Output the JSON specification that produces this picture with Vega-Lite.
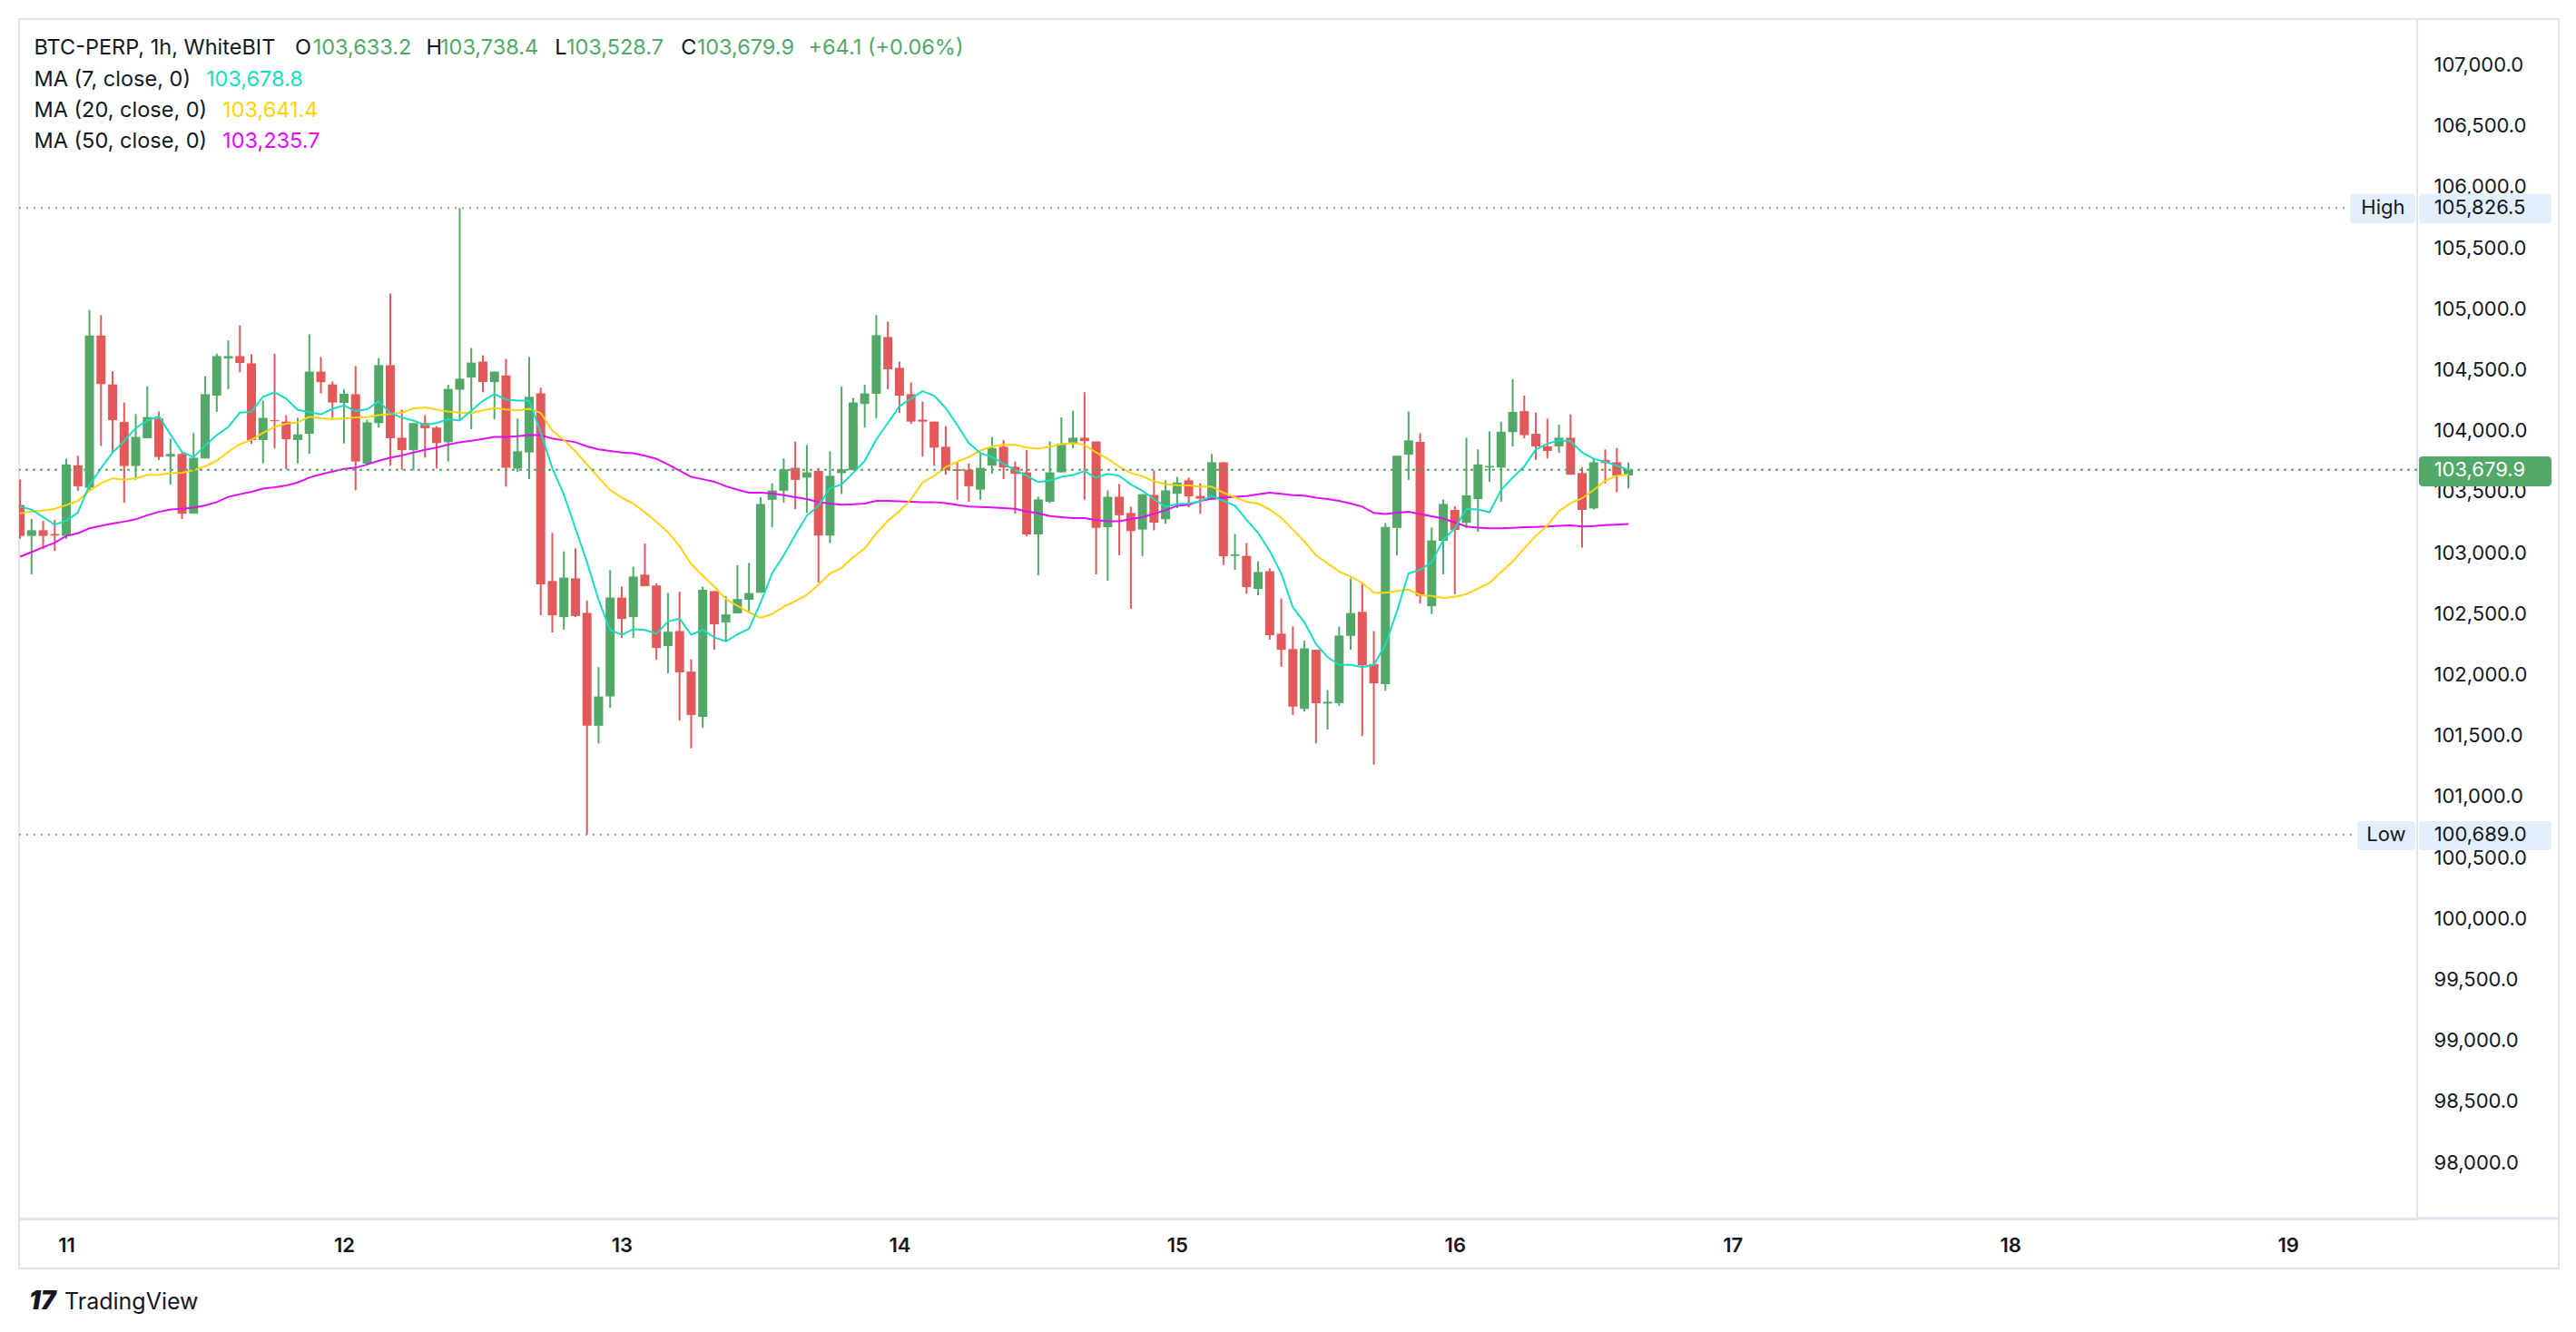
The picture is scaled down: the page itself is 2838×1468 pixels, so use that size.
{
  "$schema": "https://vega.github.io/schema/vega-lite/v6.json",
  "width": 2642,
  "height": 1322,
  "padding": {"left": 20, "top": 20, "right": 0, "bottom": 0},
  "autosize": {"type": "pad"},
  "background": "#ffffff",
  "config": {
    "font": "Inter",
    "view": {"stroke": "#e0e3eb", "strokeWidth": 2},
    "axisX": {"labelFont": "Inter", "labelFontSize": 22, "labelFontWeight": 600, "labelColor": "#131722", "labelPadding": 29, "labelBaseline": "middle", "ticks": false, "tickSize": 0, "domainColor": "#e0e3eb", "domainWidth": 3, "gridColor": "#f0f3fa", "gridWidth": 2},
    "axisY": {"labelFont": "Inter", "labelFontSize": 22, "labelColor": "#131722", "labelPadding": 18, "labelBaseline": "middle", "ticks": false, "tickSize": 0, "domain": false, "gridColor": "#f0f3fa", "gridWidth": 2}
  },
  "data": {"name": "candles", "values": [
    {"t":"2025-06-10T20:00","o":103391,"h":103600,"l":103116,"c":103138,"ma7":103378,"ma20":103323,"ma50":102968},
    {"t":"2025-06-10T21:00","o":103138,"h":103277,"l":102823,"c":103184,"ma7":103354,"ma20":103338,"ma50":103005},
    {"t":"2025-06-10T22:00","o":103184,"h":103261,"l":103030,"c":103138,"ma7":103292,"ma20":103345,"ma50":103045},
    {"t":"2025-06-10T23:00","o":103153,"h":103270,"l":103015,"c":103141,"ma7":103230,"ma20":103360,"ma50":103082},
    {"t":"2025-06-11T00:00","o":103138,"h":103770,"l":103113,"c":103724,"ma7":103261,"ma20":103391,"ma50":103138},
    {"t":"2025-06-11T01:00","o":103717,"h":103795,"l":103508,"c":103545,"ma7":103329,"ma20":103425,"ma50":103159},
    {"t":"2025-06-11T02:00","o":103533,"h":104991,"l":103508,"c":104781,"ma7":103554,"ma20":103508,"ma50":103200},
    {"t":"2025-06-11T03:00","o":104781,"h":104948,"l":103875,"c":104383,"ma7":103693,"ma20":103570,"ma50":103221},
    {"t":"2025-06-11T04:00","o":104380,"h":104488,"l":103822,"c":104087,"ma7":103822,"ma20":103610,"ma50":103240},
    {"t":"2025-06-11T05:00","o":104072,"h":104232,"l":103409,"c":103711,"ma7":103915,"ma20":103600,"ma50":103255},
    {"t":"2025-06-11T06:00","o":103711,"h":104137,"l":103597,"c":103949,"ma7":104023,"ma20":103610,"ma50":103274},
    {"t":"2025-06-11T07:00","o":103939,"h":104365,"l":103939,"c":104112,"ma7":104084,"ma20":103637,"ma50":103307},
    {"t":"2025-06-11T08:00","o":104100,"h":104158,"l":103761,"c":103785,"ma7":104118,"ma20":103640,"ma50":103335},
    {"t":"2025-06-11T09:00","o":103788,"h":103936,"l":103557,"c":103810,"ma7":103970,"ma20":103653,"ma50":103354},
    {"t":"2025-06-11T10:00","o":103810,"h":103822,"l":103277,"c":103320,"ma7":103825,"ma20":103656,"ma50":103360},
    {"t":"2025-06-11T11:00","o":103320,"h":103983,"l":103320,"c":103779,"ma7":103785,"ma20":103677,"ma50":103369},
    {"t":"2025-06-11T12:00","o":103773,"h":104448,"l":103773,"c":104300,"ma7":103878,"ma20":103708,"ma50":103388},
    {"t":"2025-06-11T13:00","o":104288,"h":104633,"l":104155,"c":104612,"ma7":103964,"ma20":103754,"ma50":103415},
    {"t":"2025-06-11T14:00","o":104593,"h":104741,"l":104340,"c":104612,"ma7":104032,"ma20":103829,"ma50":103458},
    {"t":"2025-06-11T15:00","o":104612,"h":104864,"l":104479,"c":104556,"ma7":104149,"ma20":103890,"ma50":103480},
    {"t":"2025-06-11T16:00","o":104553,"h":104627,"l":103893,"c":103924,"ma7":104155,"ma20":103927,"ma50":103499},
    {"t":"2025-06-11T17:00","o":103924,"h":104248,"l":103733,"c":104106,"ma7":104279,"ma20":103983,"ma50":103526},
    {"t":"2025-06-11T18:00","o":104087,"h":104633,"l":103856,"c":104078,"ma7":104316,"ma20":104032,"ma50":103536},
    {"t":"2025-06-11T19:00","o":104075,"h":104128,"l":103684,"c":103930,"ma7":104263,"ma20":104057,"ma50":103551},
    {"t":"2025-06-11T20:00","o":103924,"h":104106,"l":103733,"c":103970,"ma7":104171,"ma20":104069,"ma50":103576},
    {"t":"2025-06-11T21:00","o":103976,"h":104790,"l":103810,"c":104485,"ma7":104155,"ma20":104115,"ma50":103616},
    {"t":"2025-06-11T22:00","o":104485,"h":104605,"l":104306,"c":104399,"ma7":104134,"ma20":104103,"ma50":103643},
    {"t":"2025-06-11T23:00","o":104380,"h":104405,"l":104106,"c":104232,"ma7":104180,"ma20":104094,"ma50":103665},
    {"t":"2025-06-12T00:00","o":104229,"h":104340,"l":103896,"c":104303,"ma7":104208,"ma20":104100,"ma50":103687},
    {"t":"2025-06-12T01:00","o":104300,"h":104531,"l":103511,"c":103748,"ma7":104161,"ma20":104109,"ma50":103696},
    {"t":"2025-06-12T02:00","o":103730,"h":104091,"l":103730,"c":104069,"ma7":104177,"ma20":104112,"ma50":103724},
    {"t":"2025-06-12T03:00","o":104063,"h":104596,"l":104026,"c":104538,"ma7":104242,"ma20":104128,"ma50":103754},
    {"t":"2025-06-12T04:00","o":104538,"h":105126,"l":103714,"c":103939,"ma7":104146,"ma20":104137,"ma50":103779},
    {"t":"2025-06-12T05:00","o":103943,"h":104174,"l":103677,"c":103841,"ma7":104109,"ma20":104149,"ma50":103798},
    {"t":"2025-06-12T06:00","o":103841,"h":104063,"l":103677,"c":104063,"ma7":104084,"ma20":104183,"ma50":103822},
    {"t":"2025-06-12T07:00","o":104063,"h":104128,"l":103779,"c":104020,"ma7":104047,"ma20":104192,"ma50":103844},
    {"t":"2025-06-12T08:00","o":104026,"h":104038,"l":103690,"c":103899,"ma7":104063,"ma20":104174,"ma50":103862},
    {"t":"2025-06-12T09:00","o":103906,"h":104377,"l":103748,"c":104343,"ma7":104094,"ma20":104158,"ma50":103887},
    {"t":"2025-06-12T10:00","o":104337,"h":105826.5,"l":104087,"c":104427,"ma7":104084,"ma20":104149,"ma50":103906},
    {"t":"2025-06-12T11:00","o":104436,"h":104679,"l":104013,"c":104559,"ma7":104165,"ma20":104146,"ma50":103918},
    {"t":"2025-06-12T12:00","o":104568,"h":104618,"l":104316,"c":104399,"ma7":104245,"ma20":104168,"ma50":103933},
    {"t":"2025-06-12T13:00","o":104399,"h":104485,"l":104094,"c":104485,"ma7":104300,"ma20":104186,"ma50":103949},
    {"t":"2025-06-12T14:00","o":104454,"h":104590,"l":103542,"c":103696,"ma7":104257,"ma20":104174,"ma50":103949},
    {"t":"2025-06-12T15:00","o":103690,"h":104100,"l":103662,"c":103832,"ma7":104248,"ma20":104168,"ma50":103955},
    {"t":"2025-06-12T16:00","o":103822,"h":104605,"l":103603,"c":104279,"ma7":104248,"ma20":104180,"ma50":103964},
    {"t":"2025-06-12T17:00","o":104306,"h":104353,"l":102487,"c":102740,"ma7":103986,"ma20":104146,"ma50":103964},
    {"t":"2025-06-12T18:00","o":102768,"h":103163,"l":102346,"c":102487,"ma7":103693,"ma20":104001,"ma50":103936},
    {"t":"2025-06-12T19:00","o":102472,"h":103011,"l":102370,"c":102796,"ma7":103477,"ma20":103924,"ma50":103921},
    {"t":"2025-06-12T20:00","o":102790,"h":103036,"l":102472,"c":102481,"ma7":103200,"ma20":103832,"ma50":103906},
    {"t":"2025-06-12T21:00","o":102506,"h":102608,"l":100689,"c":101581,"ma7":102922,"ma20":103724,"ma50":103872},
    {"t":"2025-06-12T22:00","o":101581,"h":102062,"l":101436,"c":101821,"ma7":102614,"ma20":103616,"ma50":103847},
    {"t":"2025-06-12T23:00","o":101821,"h":102857,"l":101729,"c":102632,"ma7":102367,"ma20":103514,"ma50":103835},
    {"t":"2025-06-13T00:00","o":102632,"h":102722,"l":102302,"c":102457,"ma7":102327,"ma20":103452,"ma50":103822},
    {"t":"2025-06-13T01:00","o":102472,"h":102885,"l":102302,"c":102805,"ma7":102373,"ma20":103403,"ma50":103816},
    {"t":"2025-06-13T02:00","o":102820,"h":103076,"l":102725,"c":102725,"ma7":102367,"ma20":103332,"ma50":103795},
    {"t":"2025-06-13T03:00","o":102731,"h":102749,"l":102124,"c":102219,"ma7":102336,"ma20":103252,"ma50":103770},
    {"t":"2025-06-13T04:00","o":102235,"h":102669,"l":102013,"c":102352,"ma7":102435,"ma20":103169,"ma50":103724},
    {"t":"2025-06-13T05:00","o":102358,"h":102679,"l":101624,"c":102019,"ma7":102460,"ma20":103052,"ma50":103674},
    {"t":"2025-06-13T06:00","o":102025,"h":102127,"l":101396,"c":101670,"ma7":102327,"ma20":102907,"ma50":103622},
    {"t":"2025-06-13T07:00","o":101655,"h":102722,"l":101566,"c":102697,"ma7":102367,"ma20":102811,"ma50":103603},
    {"t":"2025-06-13T08:00","o":102685,"h":102685,"l":102204,"c":102413,"ma7":102306,"ma20":102722,"ma50":103582},
    {"t":"2025-06-13T09:00","o":102429,"h":102645,"l":102275,"c":102494,"ma7":102272,"ma20":102620,"ma50":103545},
    {"t":"2025-06-13T10:00","o":102503,"h":102897,"l":102503,"c":102620,"ma7":102330,"ma20":102565,"ma50":103517},
    {"t":"2025-06-13T11:00","o":102614,"h":102916,"l":102506,"c":102669,"ma7":102376,"ma20":102512,"ma50":103492},
    {"t":"2025-06-13T12:00","o":102672,"h":103455,"l":102672,"c":103400,"ma7":102589,"ma20":102466,"ma50":103492},
    {"t":"2025-06-13T13:00","o":103434,"h":103569,"l":103209,"c":103511,"ma7":102830,"ma20":102497,"ma50":103486},
    {"t":"2025-06-13T14:00","o":103508,"h":103773,"l":103409,"c":103684,"ma7":102978,"ma20":102558,"ma50":103471},
    {"t":"2025-06-13T15:00","o":103696,"h":103912,"l":103357,"c":103597,"ma7":103147,"ma20":102602,"ma50":103455},
    {"t":"2025-06-13T16:00","o":103616,"h":103884,"l":103326,"c":103659,"ma7":103304,"ma20":102654,"ma50":103440},
    {"t":"2025-06-13T17:00","o":103671,"h":103696,"l":102756,"c":103141,"ma7":103385,"ma20":102737,"ma50":103415},
    {"t":"2025-06-13T18:00","o":103141,"h":103832,"l":103079,"c":103631,"ma7":103529,"ma20":102830,"ma50":103403},
    {"t":"2025-06-13T19:00","o":103653,"h":104362,"l":103480,"c":103684,"ma7":103560,"ma20":102876,"ma50":103394},
    {"t":"2025-06-13T20:00","o":103677,"h":104269,"l":103677,"c":104232,"ma7":103653,"ma20":102962,"ma50":103397},
    {"t":"2025-06-13T21:00","o":104220,"h":104377,"l":104026,"c":104306,"ma7":103754,"ma20":103036,"ma50":103403},
    {"t":"2025-06-13T22:00","o":104303,"h":104948,"l":104103,"c":104784,"ma7":103930,"ma20":103159,"ma50":103425},
    {"t":"2025-06-13T23:00","o":104769,"h":104895,"l":104340,"c":104504,"ma7":104063,"ma20":103261,"ma50":103425},
    {"t":"2025-06-14T00:00","o":104516,"h":104568,"l":104146,"c":104288,"ma7":104201,"ma20":103341,"ma50":103422},
    {"t":"2025-06-14T01:00","o":104300,"h":104396,"l":104057,"c":104075,"ma7":104263,"ma20":103437,"ma50":103418},
    {"t":"2025-06-14T02:00","o":104091,"h":104239,"l":103788,"c":104075,"ma7":104325,"ma20":103576,"ma50":103415},
    {"t":"2025-06-14T03:00","o":104075,"h":104075,"l":103714,"c":103862,"ma7":104288,"ma20":103631,"ma50":103415},
    {"t":"2025-06-14T04:00","o":103869,"h":104038,"l":103640,"c":103677,"ma7":104186,"ma20":103702,"ma50":103406},
    {"t":"2025-06-14T05:00","o":103684,"h":103745,"l":103434,"c":103671,"ma7":104047,"ma20":103745,"ma50":103391},
    {"t":"2025-06-14T06:00","o":103681,"h":103733,"l":103418,"c":103545,"ma7":103899,"ma20":103785,"ma50":103378},
    {"t":"2025-06-14T07:00","o":103517,"h":103822,"l":103434,"c":103696,"ma7":103816,"ma20":103838,"ma50":103375},
    {"t":"2025-06-14T08:00","o":103714,"h":103949,"l":103647,"c":103859,"ma7":103785,"ma20":103872,"ma50":103372},
    {"t":"2025-06-14T09:00","o":103869,"h":103924,"l":103603,"c":103699,"ma7":103730,"ma20":103884,"ma50":103366},
    {"t":"2025-06-14T10:00","o":103705,"h":103748,"l":103320,"c":103647,"ma7":103677,"ma20":103884,"ma50":103360},
    {"t":"2025-06-14T11:00","o":103659,"h":103841,"l":103135,"c":103150,"ma7":103631,"ma20":103862,"ma50":103338},
    {"t":"2025-06-14T12:00","o":103150,"h":103459,"l":102814,"c":103437,"ma7":103579,"ma20":103853,"ma50":103323},
    {"t":"2025-06-14T13:00","o":103418,"h":103912,"l":103406,"c":103659,"ma7":103591,"ma20":103869,"ma50":103301},
    {"t":"2025-06-14T14:00","o":103659,"h":104109,"l":103659,"c":103896,"ma7":103622,"ma20":103890,"ma50":103292},
    {"t":"2025-06-14T15:00","o":103893,"h":104165,"l":103856,"c":103943,"ma7":103637,"ma20":103899,"ma50":103283},
    {"t":"2025-06-14T16:00","o":103943,"h":104316,"l":103434,"c":103915,"ma7":103668,"ma20":103884,"ma50":103283},
    {"t":"2025-06-14T17:00","o":103912,"h":103912,"l":102823,"c":103203,"ma7":103616,"ma20":103822,"ma50":103267},
    {"t":"2025-06-14T18:00","o":103209,"h":103511,"l":102771,"c":103459,"ma7":103647,"ma20":103770,"ma50":103258},
    {"t":"2025-06-14T19:00","o":103459,"h":103563,"l":102978,"c":103307,"ma7":103631,"ma20":103705,"ma50":103258},
    {"t":"2025-06-14T20:00","o":103326,"h":103378,"l":102540,"c":103178,"ma7":103560,"ma20":103653,"ma50":103277},
    {"t":"2025-06-14T21:00","o":103190,"h":103480,"l":102971,"c":103480,"ma7":103508,"ma20":103628,"ma50":103292},
    {"t":"2025-06-14T22:00","o":103474,"h":103674,"l":103184,"c":103246,"ma7":103440,"ma20":103585,"ma50":103320},
    {"t":"2025-06-14T23:00","o":103274,"h":103594,"l":103237,"c":103511,"ma7":103375,"ma20":103563,"ma50":103348},
    {"t":"2025-06-15T00:00","o":103483,"h":103622,"l":103366,"c":103576,"ma7":103400,"ma20":103554,"ma50":103385},
    {"t":"2025-06-15T01:00","o":103594,"h":103616,"l":103372,"c":103462,"ma7":103403,"ma20":103551,"ma50":103394},
    {"t":"2025-06-15T02:00","o":103465,"h":103569,"l":103320,"c":103443,"ma7":103422,"ma20":103542,"ma50":103425},
    {"t":"2025-06-15T03:00","o":103434,"h":103810,"l":103434,"c":103742,"ma7":103465,"ma20":103542,"ma50":103443},
    {"t":"2025-06-15T04:00","o":103742,"h":103742,"l":102900,"c":102971,"ma7":103425,"ma20":103492,"ma50":103452},
    {"t":"2025-06-15T05:00","o":102974,"h":103153,"l":102860,"c":102987,"ma7":103385,"ma20":103455,"ma50":103458},
    {"t":"2025-06-15T06:00","o":102974,"h":103079,"l":102663,"c":102719,"ma7":103270,"ma20":103418,"ma50":103465},
    {"t":"2025-06-15T07:00","o":102703,"h":102931,"l":102651,"c":102842,"ma7":103163,"ma20":103403,"ma50":103480},
    {"t":"2025-06-15T08:00","o":102848,"h":102873,"l":102287,"c":102324,"ma7":103015,"ma20":103354,"ma50":103492},
    {"t":"2025-06-15T09:00","o":102336,"h":102626,"l":102065,"c":102204,"ma7":102830,"ma20":103286,"ma50":103483},
    {"t":"2025-06-15T10:00","o":102210,"h":102395,"l":101670,"c":101738,"ma7":102552,"ma20":103190,"ma50":103471},
    {"t":"2025-06-15T11:00","o":101720,"h":102278,"l":101698,"c":102216,"ma7":102429,"ma20":103092,"ma50":103468},
    {"t":"2025-06-15T12:00","o":102204,"h":102204,"l":101436,"c":101766,"ma7":102250,"ma20":102978,"ma50":103452},
    {"t":"2025-06-15T13:00","o":101763,"h":101874,"l":101550,"c":101778,"ma7":102145,"ma20":102913,"ma50":103440},
    {"t":"2025-06-15T14:00","o":101766,"h":102395,"l":101744,"c":102321,"ma7":102080,"ma20":102845,"ma50":103425},
    {"t":"2025-06-15T15:00","o":102318,"h":102790,"l":102204,"c":102506,"ma7":102080,"ma20":102805,"ma50":103403},
    {"t":"2025-06-15T16:00","o":102515,"h":102759,"l":101498,"c":102077,"ma7":102062,"ma20":102752,"ma50":103378},
    {"t":"2025-06-15T17:00","o":102087,"h":102358,"l":101264,"c":101929,"ma7":102080,"ma20":102672,"ma50":103326},
    {"t":"2025-06-15T18:00","o":101923,"h":103243,"l":101868,"c":103212,"ma7":102244,"ma20":102672,"ma50":103317},
    {"t":"2025-06-15T19:00","o":103203,"h":103795,"l":102978,"c":103795,"ma7":102521,"ma20":102685,"ma50":103329},
    {"t":"2025-06-15T20:00","o":103804,"h":104158,"l":103597,"c":103921,"ma7":102830,"ma20":102697,"ma50":103335},
    {"t":"2025-06-15T21:00","o":103909,"h":103980,"l":102583,"c":102645,"ma7":102860,"ma20":102654,"ma50":103317},
    {"t":"2025-06-15T22:00","o":102561,"h":103206,"l":102497,"c":103101,"ma7":102922,"ma20":102645,"ma50":103298},
    {"t":"2025-06-15T23:00","o":103098,"h":103437,"l":102823,"c":103400,"ma7":103107,"ma20":102629,"ma50":103280},
    {"t":"2025-06-16T00:00","o":103351,"h":103381,"l":102660,"c":103187,"ma7":103200,"ma20":102638,"ma50":103249},
    {"t":"2025-06-16T01:00","o":103246,"h":103943,"l":103203,"c":103471,"ma7":103360,"ma20":102660,"ma50":103215},
    {"t":"2025-06-16T02:00","o":103440,"h":103847,"l":103172,"c":103724,"ma7":103354,"ma20":102706,"ma50":103206},
    {"t":"2025-06-16T03:00","o":103699,"h":103995,"l":103582,"c":103711,"ma7":103332,"ma20":102752,"ma50":103200},
    {"t":"2025-06-16T04:00","o":103699,"h":104075,"l":103418,"c":103992,"ma7":103514,"ma20":102842,"ma50":103200},
    {"t":"2025-06-16T05:00","o":103989,"h":104423,"l":103872,"c":104155,"ma7":103616,"ma20":102928,"ma50":103203},
    {"t":"2025-06-16T06:00","o":104161,"h":104288,"l":103939,"c":103964,"ma7":103708,"ma20":103036,"ma50":103209},
    {"t":"2025-06-16T07:00","o":103976,"h":104149,"l":103761,"c":103872,"ma7":103847,"ma20":103138,"ma50":103212},
    {"t":"2025-06-16T08:00","o":103872,"h":104100,"l":103773,"c":103835,"ma7":103893,"ma20":103224,"ma50":103215},
    {"t":"2025-06-16T09:00","o":103872,"h":104050,"l":103819,"c":103943,"ma7":103921,"ma20":103341,"ma50":103221},
    {"t":"2025-06-16T10:00","o":103943,"h":104134,"l":103640,"c":103640,"ma7":103915,"ma20":103406,"ma50":103224},
    {"t":"2025-06-16T11:00","o":103653,"h":103702,"l":103042,"c":103351,"ma7":103822,"ma20":103446,"ma50":103215},
    {"t":"2025-06-16T12:00","o":103363,"h":103776,"l":103354,"c":103742,"ma7":103770,"ma20":103514,"ma50":103218},
    {"t":"2025-06-16T13:00","o":103761,"h":103847,"l":103569,"c":103736,"ma7":103745,"ma20":103591,"ma50":103227},
    {"t":"2025-06-16T14:00","o":103742,"h":103859,"l":103496,"c":103633,"ma7":103714,"ma20":103631,"ma50":103230},
    {"t":"2025-06-16T15:00","o":103633.2,"h":103738.4,"l":103528.7,"c":103679.9,"ma7":103678.8,"ma20":103641.4,"ma50":103235.7}
  ]},
  "layer": [
    {
      "data": {"values": [{}]},
      "mark": {"type": "rect", "fill": null, "fillOpacity": 0, "stroke": "#e0e3eb", "strokeWidth": 2},
      "encoding": {
        "x": {"datum": {"year": 2025, "month": 6, "date": 10, "hours": 19, "minutes": 55}, "title": null},
        "x2": {"datum": {"year": 2025, "month": 6, "date": 19, "hours": 23, "minutes": 24}},
        "y": {"datum": 107376, "title": null},
        "y2": {"datum": 97131}
      }
    },
    {
      "data": {"values": [{}]},
      "mark": {"type": "rule", "color": "#e0e3eb", "strokeWidth": 3},
      "encoding": {
        "x": {"datum": {"year": 2025, "month": 6, "date": 19, "hours": 11, "minutes": 10}, "title": null},
        "x2": {"datum": {"year": 2025, "month": 6, "date": 19, "hours": 23, "minutes": 24}},
        "y": {"datum": 97540, "title": null}
      }
    },
    {
      "mark": {"type": "rule", "strokeWidth": 2, "clip": true},
      "encoding": {
        "x": {"field": "t", "type": "temporal", "title": null,
          "scale": {"domain": [{"year": 2025, "month": 6, "date": 10, "hours": 19, "minutes": 55}, {"year": 2025, "month": 6, "date": 19, "hours": 11, "minutes": 10}], "nice": false, "padding": 0},
          "axis": {"format": "%-d", "tickCount": {"interval": "day", "step": 1}, "labelFlush": false, "labelOverlap": false}},
        "y": {"field": "l", "type": "quantitative", "title": null,
          "scale": {"domain": [97540, 107376], "zero": false, "nice": false},
          "axis": {"orient": "right", "format": ",.1f", "labelOverlap": false, "values": [98000, 98500, 99000, 99500, 100000, 100500, 101000, 101500, 102000, 102500, 103000, 103500, 104000, 104500, 105000, 105500, 106000, 106500, 107000]}},
        "y2": {"field": "h"},
        "color": {"condition": {"test": "datum.c >= datum.o", "value": "#52a867"}, "value": "#e35858"}
      }
    },
    {
      "mark": {"type": "bar", "width": 10, "clip": true},
      "encoding": {
        "x": {"field": "t", "type": "temporal", "title": null},
        "y": {"field": "o", "type": "quantitative", "title": null},
        "y2": {"field": "c"},
        "color": {"condition": {"test": "datum.c >= datum.o", "value": "#52a867"}, "value": "#e35858"}
      }
    },
    {
      "mark": {"type": "line", "color": "#e30cf7", "strokeWidth": 2, "clip": true},
      "encoding": {"x": {"field": "t", "type": "temporal", "title": null}, "y": {"field": "ma50", "type": "quantitative", "title": null}}
    },
    {
      "mark": {"type": "line", "color": "#fdd20e", "strokeWidth": 2, "clip": true},
      "encoding": {"x": {"field": "t", "type": "temporal", "title": null}, "y": {"field": "ma20", "type": "quantitative", "title": null}}
    },
    {
      "mark": {"type": "line", "color": "#17dcc3", "strokeWidth": 2, "clip": true},
      "encoding": {"x": {"field": "t", "type": "temporal", "title": null}, "y": {"field": "ma7", "type": "quantitative", "title": null}}
    },
    {
      "data": {"values": [{}]},
      "mark": {"type": "rule", "color": "#9598a1", "strokeWidth": 2, "strokeDash": [2, 6]},
      "encoding": {
        "x": {"datum": {"year": 2025, "month": 6, "date": 10, "hours": 19, "minutes": 55}, "title": null},
        "x2": {"datum": {"year": 2025, "month": 6, "date": 19, "hours": 5, "minutes": 21, "seconds": 30}},
        "y": {"datum": 105826.5, "title": null}
      }
    },
    {
      "data": {"values": [{}]},
      "mark": {"type": "rule", "color": "#9598a1", "strokeWidth": 2, "strokeDash": [2, 6]},
      "encoding": {
        "x": {"datum": {"year": 2025, "month": 6, "date": 10, "hours": 19, "minutes": 55}, "title": null},
        "x2": {"datum": {"year": 2025, "month": 6, "date": 19, "hours": 5, "minutes": 59}},
        "y": {"datum": 100689, "title": null}
      }
    },
    {
      "data": {"values": [{}]},
      "mark": {"type": "rule", "color": "#52a867", "strokeWidth": 2, "strokeDash": [3, 5]},
      "encoding": {"y": {"datum": 103679.9, "title": null}}
    },
    {
      "data": {"values": [{}]},
      "mark": {"type": "rect", "fill": "#e3eefc", "cornerRadius": 4},
      "encoding": {
        "x": {"datum": {"year": 2025, "month": 6, "date": 19, "hours": 5, "minutes": 21, "seconds": 30}, "title": null},
        "x2": {"datum": {"year": 2025, "month": 6, "date": 19, "hours": 11, "minutes": 0, "seconds": 24}},
        "y": {"datum": 105944, "title": null},
        "y2": {"datum": 105700}
      }
    },
    {
      "data": {"values": [{}]},
      "mark": {"type": "rect", "fill": "#e3eefc", "cornerRadius": 4},
      "encoding": {
        "x": {"datum": {"year": 2025, "month": 6, "date": 19, "hours": 11, "minutes": 19, "seconds": 18}, "title": null},
        "x2": {"datum": {"year": 2025, "month": 6, "date": 19, "hours": 22, "minutes": 46, "seconds": 24}},
        "y": {"datum": 105944, "title": null},
        "y2": {"datum": 105700}
      }
    },
    {
      "data": {"values": [{}]},
      "mark": {"type": "rect", "fill": "#e3eefc", "cornerRadius": 4},
      "encoding": {
        "x": {"datum": {"year": 2025, "month": 6, "date": 19, "hours": 5, "minutes": 59, "seconds": 12}, "title": null},
        "x2": {"datum": {"year": 2025, "month": 6, "date": 19, "hours": 11, "minutes": 0, "seconds": 24}},
        "y": {"datum": 100799, "title": null},
        "y2": {"datum": 100561}
      }
    },
    {
      "data": {"values": [{}]},
      "mark": {"type": "rect", "fill": "#e3eefc", "cornerRadius": 4},
      "encoding": {
        "x": {"datum": {"year": 2025, "month": 6, "date": 19, "hours": 11, "minutes": 19, "seconds": 18}, "title": null},
        "x2": {"datum": {"year": 2025, "month": 6, "date": 19, "hours": 22, "minutes": 46, "seconds": 24}},
        "y": {"datum": 100799, "title": null},
        "y2": {"datum": 100561}
      }
    },
    {
      "data": {"values": [{}]},
      "mark": {"type": "rect", "fill": "#52a867", "cornerRadius": 4},
      "encoding": {
        "x": {"datum": {"year": 2025, "month": 6, "date": 19, "hours": 11, "minutes": 19, "seconds": 18}, "title": null},
        "x2": {"datum": {"year": 2025, "month": 6, "date": 19, "hours": 22, "minutes": 46, "seconds": 24}},
        "y": {"datum": 103790, "title": null},
        "y2": {"datum": 103545}
      }
    },
    {
      "data": {"values": [{}]},
      "mark": {"type": "text", "align": "center", "baseline": "middle", "fontSize": 22, "color": "#131722"},
      "encoding": {"x": {"datum": {"year": 2025, "month": 6, "date": 19, "hours": 8, "minutes": 13, "seconds": 18}, "title": null}, "y": {"datum": 105826.5, "title": null}, "text": {"value": "High"}}
    },
    {
      "data": {"values": [{}]},
      "mark": {"type": "text", "align": "left", "baseline": "middle", "fontSize": 22, "color": "#131722"},
      "encoding": {"x": {"datum": {"year": 2025, "month": 6, "date": 19, "hours": 12, "minutes": 37, "seconds": 48}, "title": null}, "y": {"datum": 105826.5, "title": null}, "text": {"value": "105,826.5"}}
    },
    {
      "data": {"values": [{}]},
      "mark": {"type": "text", "align": "center", "baseline": "middle", "fontSize": 22, "color": "#131722"},
      "encoding": {"x": {"datum": {"year": 2025, "month": 6, "date": 19, "hours": 8, "minutes": 29, "seconds": 48}, "title": null}, "y": {"datum": 100689, "title": null}, "text": {"value": "Low"}}
    },
    {
      "data": {"values": [{}]},
      "mark": {"type": "text", "align": "left", "baseline": "middle", "fontSize": 22, "color": "#131722"},
      "encoding": {"x": {"datum": {"year": 2025, "month": 6, "date": 19, "hours": 12, "minutes": 37, "seconds": 48}, "title": null}, "y": {"datum": 100689, "title": null}, "text": {"value": "100,689.0"}}
    },
    {
      "data": {"values": [{}]},
      "mark": {"type": "text", "align": "left", "baseline": "middle", "fontSize": 22, "color": "#ffffff"},
      "encoding": {"x": {"datum": {"year": 2025, "month": 6, "date": 19, "hours": 12, "minutes": 37, "seconds": 48}, "title": null}, "y": {"datum": 103679.9, "title": null}, "text": {"value": "103,679.9"}}
    },
    {
      "data": {"values": [{}]},
      "mark": {"type": "text", "align": "left", "baseline": "alphabetic", "fontSize": 23.5, "lineHeight": 34.4, "color": "#131722"},
      "encoding": {"x": {"datum": {"year": 2025, "month": 6, "date": 10, "hours": 21, "minutes": 12, "seconds": 40}, "title": null}, "y": {"datum": 107085, "title": null}, "text": {"value": ["BTC-PERP, 1h, WhiteBIT", "MA (7, close, 0)", "MA (20, close, 0)", "MA (50, close, 0)"]}}
    },
    {
      "data": {"values": [{}]},
      "mark": {"type": "text", "align": "left", "baseline": "alphabetic", "fontSize": 23.5, "color": "#131722"},
      "encoding": {"x": {"datum": {"year": 2025, "month": 6, "date": 11, "hours": 19, "minutes": 46, "seconds": 18}, "title": null}, "y": {"datum": 107085, "title": null}, "text": {"value": "O"}}
    },
    {
      "data": {"values": [{}]},
      "mark": {"type": "text", "align": "left", "baseline": "alphabetic", "fontSize": 23.5, "color": "#52a867"},
      "encoding": {"x": {"datum": {"year": 2025, "month": 6, "date": 11, "hours": 21, "minutes": 18, "seconds": 30}, "title": null}, "y": {"datum": 107085, "title": null}, "text": {"value": "103,633.2"}}
    },
    {
      "data": {"values": [{}]},
      "mark": {"type": "text", "align": "left", "baseline": "alphabetic", "fontSize": 23.5, "color": "#131722"},
      "encoding": {"x": {"datum": {"year": 2025, "month": 6, "date": 12, "hours": 7, "minutes": 6, "seconds": 24}, "title": null}, "y": {"datum": 107085, "title": null}, "text": {"value": "H"}}
    },
    {
      "data": {"values": [{}]},
      "mark": {"type": "text", "align": "left", "baseline": "alphabetic", "fontSize": 23.5, "color": "#52a867"},
      "encoding": {"x": {"datum": {"year": 2025, "month": 6, "date": 12, "hours": 8, "minutes": 18, "seconds": 54}, "title": null}, "y": {"datum": 107085, "title": null}, "text": {"value": "103,738.4"}}
    },
    {
      "data": {"values": [{}]},
      "mark": {"type": "text", "align": "left", "baseline": "alphabetic", "fontSize": 23.5, "color": "#131722"},
      "encoding": {"x": {"datum": {"year": 2025, "month": 6, "date": 12, "hours": 18, "minutes": 13, "seconds": 18}, "title": null}, "y": {"datum": 107085, "title": null}, "text": {"value": "L"}}
    },
    {
      "data": {"values": [{}]},
      "mark": {"type": "text", "align": "left", "baseline": "alphabetic", "fontSize": 23.5, "color": "#52a867"},
      "encoding": {"x": {"datum": {"year": 2025, "month": 6, "date": 12, "hours": 19, "minutes": 12, "seconds": 36}, "title": null}, "y": {"datum": 107085, "title": null}, "text": {"value": "103,528.7"}}
    },
    {
      "data": {"values": [{}]},
      "mark": {"type": "text", "align": "left", "baseline": "alphabetic", "fontSize": 23.5, "color": "#131722"},
      "encoding": {"x": {"datum": {"year": 2025, "month": 6, "date": 13, "hours": 5, "minutes": 7, "seconds": 6}, "title": null}, "y": {"datum": 107085, "title": null}, "text": {"value": "C"}}
    },
    {
      "data": {"values": [{}]},
      "mark": {"type": "text", "align": "left", "baseline": "alphabetic", "fontSize": 23.5, "color": "#52a867"},
      "encoding": {"x": {"datum": {"year": 2025, "month": 6, "date": 13, "hours": 6, "minutes": 29, "seconds": 24}, "title": null}, "y": {"datum": 107085, "title": null}, "text": {"value": "103,679.9"}}
    },
    {
      "data": {"values": [{}]},
      "mark": {"type": "text", "align": "left", "baseline": "alphabetic", "fontSize": 23.5, "color": "#52a867"},
      "encoding": {"x": {"datum": {"year": 2025, "month": 6, "date": 13, "hours": 16, "minutes": 7, "seconds": 24}, "title": null}, "y": {"datum": 107085, "title": null}, "text": {"value": "+64.1 (+0.06%)"}}
    },
    {
      "data": {"values": [{}]},
      "mark": {"type": "text", "align": "left", "baseline": "alphabetic", "fontSize": 23.5, "color": "#17dcc3"},
      "encoding": {"x": {"datum": {"year": 2025, "month": 6, "date": 11, "hours": 12, "minutes": 4, "seconds": 6}, "title": null}, "y": {"datum": 106829, "title": null}, "text": {"value": "103,678.8"}}
    },
    {
      "data": {"values": [{}]},
      "mark": {"type": "text", "align": "left", "baseline": "alphabetic", "fontSize": 23.5, "color": "#fdd20e"},
      "encoding": {"x": {"datum": {"year": 2025, "month": 6, "date": 11, "hours": 13, "minutes": 29, "seconds": 42}, "title": null}, "y": {"datum": 106573, "title": null}, "text": {"value": "103,641.4"}}
    },
    {
      "data": {"values": [{}]},
      "mark": {"type": "text", "align": "left", "baseline": "alphabetic", "fontSize": 23.5, "color": "#e30cf7"},
      "encoding": {"x": {"datum": {"year": 2025, "month": 6, "date": 11, "hours": 13, "minutes": 29, "seconds": 42}, "title": null}, "y": {"datum": 106317, "title": null}, "text": {"value": "103,235.7"}}
    },
    {
      "data": {"values": [{}]},
      "mark": {"type": "text", "align": "left", "baseline": "alphabetic", "fontSize": 28, "fontWeight": 900, "fontStyle": "italic", "color": "#131722"},
      "encoding": {"x": {"datum": {"year": 2025, "month": 6, "date": 10, "hours": 20, "minutes": 46, "seconds": 47}, "title": null}, "y": {"datum": 96796, "title": null}, "text": {"value": "17"}}
    },
    {
      "data": {"values": [{}]},
      "mark": {"type": "text", "align": "left", "baseline": "alphabetic", "fontSize": 25, "color": "#131722"},
      "encoding": {"x": {"datum": {"year": 2025, "month": 6, "date": 10, "hours": 23, "minutes": 50, "seconds": 20}, "title": null}, "y": {"datum": 96796, "title": null}, "text": {"value": "TradingView"}}
    }
  ]
}
